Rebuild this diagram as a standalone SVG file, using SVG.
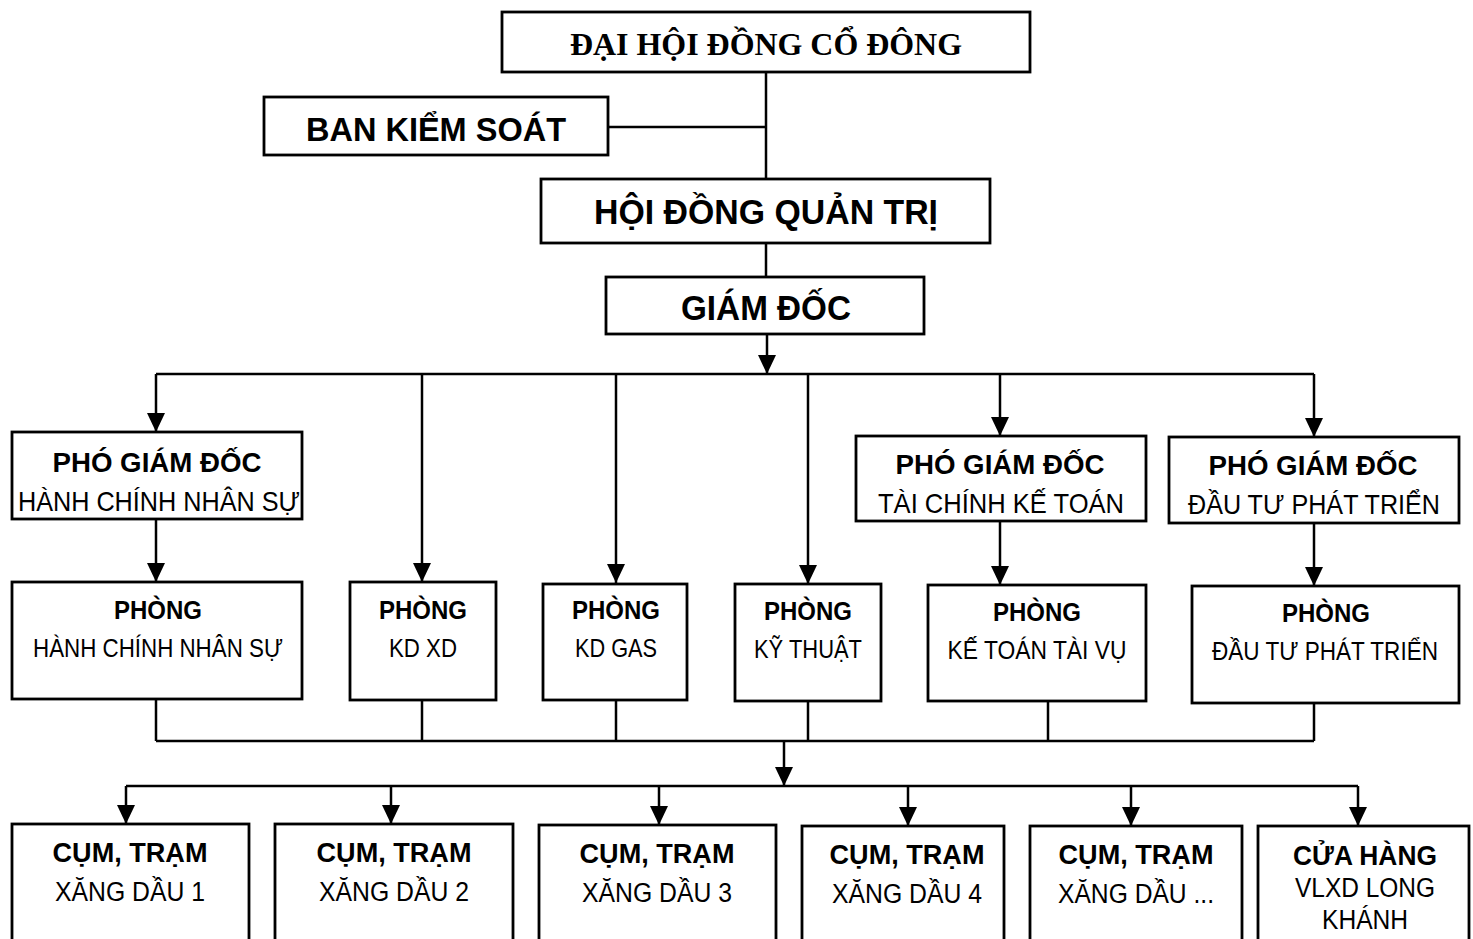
<svg xmlns="http://www.w3.org/2000/svg" width="1473" height="939" viewBox="0 0 1473 939">
<style>
.box{fill:#fff;stroke:#000;stroke-width:2.8}
.ln{fill:none;stroke:#000;stroke-width:2.5}
.arw{marker-end:url(#ah)}
.t{font-family:"Liberation Sans",Arial,sans-serif;text-anchor:middle;fill:#000}
.b{font-weight:bold}
.ser{font-family:"Liberation Serif","Times New Roman",serif;font-weight:bold}
</style>
<defs>
<marker id="ah" markerUnits="userSpaceOnUse" markerWidth="20" markerHeight="18" refX="19" refY="9" orient="auto" viewBox="0 0 20 18">
<path d="M0,0 L19,9 L0,18 Z" fill="#000"/>
</marker>
</defs>
<rect width="1473" height="939" fill="#fff"/>
<g id="connectors">
<path class="ln" d="M766 72 V179 M608 127 H766 M766 243 V277"/>
<path class="ln arw" d="M767 334 V374"/>
<path class="ln" d="M156 374 H1314"/>
<path class="ln arw" d="M156 374 V432"/>
<path class="ln arw" d="M422 374 V582"/>
<path class="ln arw" d="M616 374 V583"/>
<path class="ln arw" d="M808 374 V584"/>
<path class="ln arw" d="M1000 374 V436"/>
<path class="ln arw" d="M1314 374 V437"/>
<path class="ln arw" d="M156 519 V582"/>
<path class="ln arw" d="M1000 521 V585"/>
<path class="ln arw" d="M1314 523 V586"/>
<path class="ln" d="M156 699 V741 M422 700 V741 M616 700 V741 M808 701 V741 M1048 701 V741 M1314 703 V741 M156 741 H1314"/>
<path class="ln arw" d="M784 741 V786"/>
<path class="ln" d="M126 786 H1358"/>
<path class="ln arw" d="M126 786 V824"/>
<path class="ln arw" d="M391 786 V824"/>
<path class="ln arw" d="M659 786 V825"/>
<path class="ln arw" d="M908 786 V826"/>
<path class="ln arw" d="M1131 786 V826"/>
<path class="ln arw" d="M1358 786 V826"/>
</g>
<g id="dhdcd">
<rect class="box" x="502" y="12" width="528" height="60"/>
<text class="ser" x="766" y="55" font-size="32" text-anchor="middle" textLength="392" lengthAdjust="spacingAndGlyphs">ĐẠI HỘI ĐỒNG CỔ ĐÔNG</text>
</g>
<g id="bks">
<rect class="box" x="264" y="97" width="344" height="58"/>
<text class="t b" x="436" y="141" font-size="34" textLength="260" lengthAdjust="spacingAndGlyphs">BAN KIỂM SOÁT</text>
</g>
<g id="hdqt">
<rect class="box" x="541" y="179" width="449" height="64"/>
<text class="t b" x="766" y="224" font-size="35" textLength="344" lengthAdjust="spacingAndGlyphs">HỘI ĐỒNG QUẢN TRỊ</text>
</g>
<g id="gd">
<rect class="box" x="606" y="277" width="318" height="57"/>
<text class="t b" x="766" y="320" font-size="35" textLength="170" lengthAdjust="spacingAndGlyphs">GIÁM ĐỐC</text>
</g>
<g id="pgd-hcns">
<rect class="box" x="12" y="432" width="290" height="87"/>
<text class="t b" x="157" y="472" font-size="27" textLength="209" lengthAdjust="spacingAndGlyphs">PHÓ GIÁM ĐỐC</text>
<text class="t" x="159" y="511" font-size="28" textLength="282" lengthAdjust="spacingAndGlyphs">HÀNH CHÍNH NHÂN SỰ</text>
</g>
<g id="pgd-tckt">
<rect class="box" x="856" y="436" width="290" height="85"/>
<text class="t b" x="1000" y="474" font-size="27" textLength="209" lengthAdjust="spacingAndGlyphs">PHÓ GIÁM ĐỐC</text>
<text class="t" x="1001" y="513" font-size="28" textLength="246" lengthAdjust="spacingAndGlyphs">TÀI CHÍNH KẾ TOÁN</text>
</g>
<g id="pgd-dtpt">
<rect class="box" x="1169" y="437" width="290" height="86"/>
<text class="t b" x="1313" y="475" font-size="27" textLength="209" lengthAdjust="spacingAndGlyphs">PHÓ GIÁM ĐỐC</text>
<text class="t" x="1314" y="514" font-size="28" textLength="252" lengthAdjust="spacingAndGlyphs">ĐẦU TƯ PHÁT TRIỂN</text>
</g>
<g id="p-hcns">
<rect class="box" x="12" y="582" width="290" height="117"/>
<text class="t b" x="158" y="619" font-size="26" textLength="88" lengthAdjust="spacingAndGlyphs">PHÒNG</text>
<text class="t" x="158" y="657" font-size="26" textLength="250" lengthAdjust="spacingAndGlyphs">HÀNH CHÍNH NHÂN SỰ</text>
</g>
<g id="p-kdxd">
<rect class="box" x="350" y="582" width="146" height="118"/>
<text class="t b" x="423" y="619" font-size="26" textLength="88" lengthAdjust="spacingAndGlyphs">PHÒNG</text>
<text class="t" x="423" y="657" font-size="26" textLength="68" lengthAdjust="spacingAndGlyphs">KD XD</text>
</g>
<g id="p-kdgas">
<rect class="box" x="543" y="584" width="144" height="116"/>
<text class="t b" x="616" y="619" font-size="26" textLength="88" lengthAdjust="spacingAndGlyphs">PHÒNG</text>
<text class="t" x="616" y="657" font-size="26" textLength="82" lengthAdjust="spacingAndGlyphs">KD GAS</text>
</g>
<g id="p-kt">
<rect class="box" x="735" y="584" width="146" height="117"/>
<text class="t b" x="808" y="620" font-size="26" textLength="88" lengthAdjust="spacingAndGlyphs">PHÒNG</text>
<text class="t" x="808" y="658" font-size="26" textLength="108" lengthAdjust="spacingAndGlyphs">KỸ THUẬT</text>
</g>
<g id="p-kttv">
<rect class="box" x="928" y="585" width="218" height="116"/>
<text class="t b" x="1037" y="621" font-size="26" textLength="88" lengthAdjust="spacingAndGlyphs">PHÒNG</text>
<text class="t" x="1037" y="659" font-size="26" textLength="179" lengthAdjust="spacingAndGlyphs">KẾ TOÁN TÀI VỤ</text>
</g>
<g id="p-dtpt">
<rect class="box" x="1192" y="586" width="267" height="117"/>
<text class="t b" x="1326" y="622" font-size="26" textLength="88" lengthAdjust="spacingAndGlyphs">PHÒNG</text>
<text class="t" x="1325" y="660" font-size="26" textLength="226" lengthAdjust="spacingAndGlyphs">ĐẦU TƯ PHÁT TRIỂN</text>
</g>
<g id="xd1">
<rect class="box" x="12" y="824" width="237" height="125"/>
<text class="t b" x="130" y="862" font-size="27" textLength="155" lengthAdjust="spacingAndGlyphs">CỤM, TRẠM</text>
<text class="t" x="130" y="901" font-size="27" textLength="150" lengthAdjust="spacingAndGlyphs">XĂNG DẦU 1</text>
</g>
<g id="xd2">
<rect class="box" x="275" y="824" width="238" height="125"/>
<text class="t b" x="394" y="862" font-size="27" textLength="155" lengthAdjust="spacingAndGlyphs">CỤM, TRẠM</text>
<text class="t" x="394" y="901" font-size="27" textLength="150" lengthAdjust="spacingAndGlyphs">XĂNG DẦU 2</text>
</g>
<g id="xd3">
<rect class="box" x="539" y="825" width="237" height="124"/>
<text class="t b" x="657" y="863" font-size="27" textLength="155" lengthAdjust="spacingAndGlyphs">CỤM, TRẠM</text>
<text class="t" x="657" y="902" font-size="27" textLength="150" lengthAdjust="spacingAndGlyphs">XĂNG DẦU 3</text>
</g>
<g id="xd4">
<rect class="box" x="802" y="826" width="202" height="123"/>
<text class="t b" x="907" y="864" font-size="27" textLength="155" lengthAdjust="spacingAndGlyphs">CỤM, TRẠM</text>
<text class="t" x="907" y="903" font-size="27" textLength="150" lengthAdjust="spacingAndGlyphs">XĂNG DẦU 4</text>
</g>
<g id="xd5">
<rect class="box" x="1030" y="826" width="212" height="123"/>
<text class="t b" x="1136" y="864" font-size="27" textLength="155" lengthAdjust="spacingAndGlyphs">CỤM, TRẠM</text>
<text class="t" x="1136" y="903" font-size="27" textLength="156" lengthAdjust="spacingAndGlyphs">XĂNG DẦU ...</text>
</g>
<g id="vlxd">
<rect class="box" x="1258" y="826" width="211" height="123"/>
<text class="t b" x="1365" y="865" font-size="27" textLength="144" lengthAdjust="spacingAndGlyphs">CỬA HÀNG</text>
<text class="t" x="1365" y="897" font-size="27" textLength="140" lengthAdjust="spacingAndGlyphs">VLXD LONG</text>
<text class="t" x="1365" y="929" font-size="27" textLength="86" lengthAdjust="spacingAndGlyphs">KHÁNH</text>
</g>
</svg>
